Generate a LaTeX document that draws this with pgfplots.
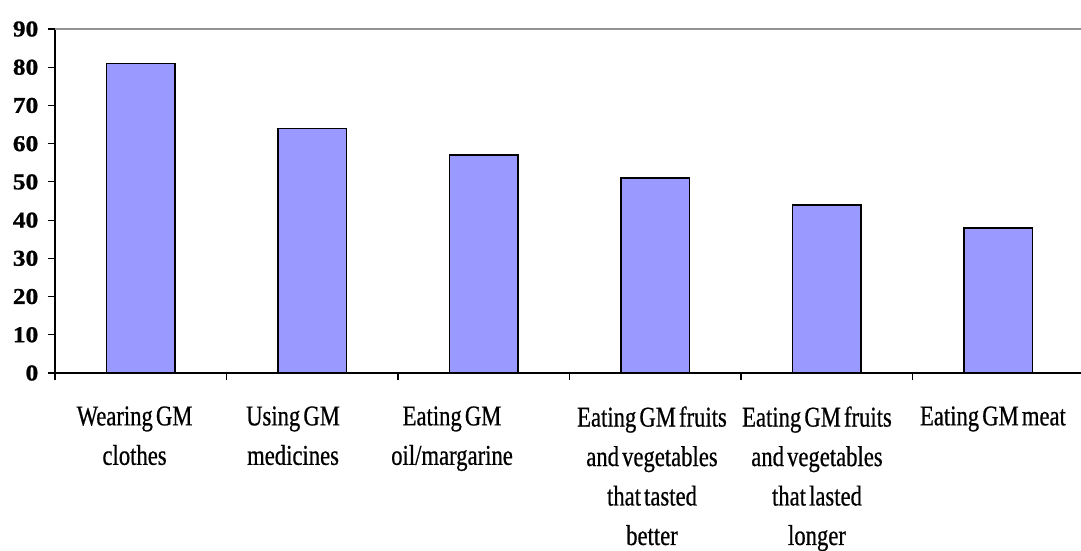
\documentclass[border=0pt]{standalone}
\usepackage{fontspec}
\setmainfont{Liberation Serif}
\newfontfamily\catfont[FakeStretch=0.79,WordSpace=0.55,FakeBold=0.6]{Liberation Serif}
\newfontfamily\tickfont[FakeStretch=1.12,FakeBold=1]{Liberation Serif}
\usepackage{pgfplots}
\pgfplotsset{compat=1.18}
\definecolor{barblue}{HTML}{9999FF}
\begin{document}
\begin{tikzpicture}
\path[use as bounding box] (0,0) rectangle (810.75pt,412.5pt);
\begin{axis}[
  at={(41.25pt,132.75pt)}, anchor=south west,
  scale only axis, width=771.75pt, height=258pt,
  xmin=-0.5, xmax=5.5, ymin=0, ymax=90,
  ybar, bar width=0.4,
  axis x line*=bottom, axis y line*=left,
  axis line style={black, line width=0.9pt},
  ytick={0,10,...,90},
  xtick={-0.5,0.5,...,5.5},
  xticklabels={},
  extra x ticks={-0.036,0.888,1.815,2.981,3.943,4.969},
  extra x tick labels={{Wearing GM\\clothes},{Using GM\\medicines},{Eating GM\\oil/margarine},{Eating GM fruits\\and vegetables\\that tasted\\better},{Eating GM fruits\\and vegetables\\that lasted\\longer},{Eating GM meat}},
  extra x tick style={tick style={draw=none}},
  tick align=outside, major tick length=5.5pt,
  tick style={black, line width=0.8pt},
  /pgf/number format/assume math mode=true,
  yticklabel style={font=\tickfont\bfseries\fontsize{17}{19}\selectfont, xshift=-3.5pt},
  xticklabel style={font=\catfont\fontsize{21.5}{29.6}\selectfont, align=center, anchor=north, yshift=-16pt},
  clip=false,
]
\addplot[fill=barblue, draw=black, line width=1.2pt] coordinates {(0,81) (1,64) (2,57) (3,51) (4,44) (5,38)};
\draw[gray!85, line width=0.9pt] (axis cs:-0.5,90) -- (axis cs:5.5,90);
\end{axis}
\end{tikzpicture}
\end{document}
